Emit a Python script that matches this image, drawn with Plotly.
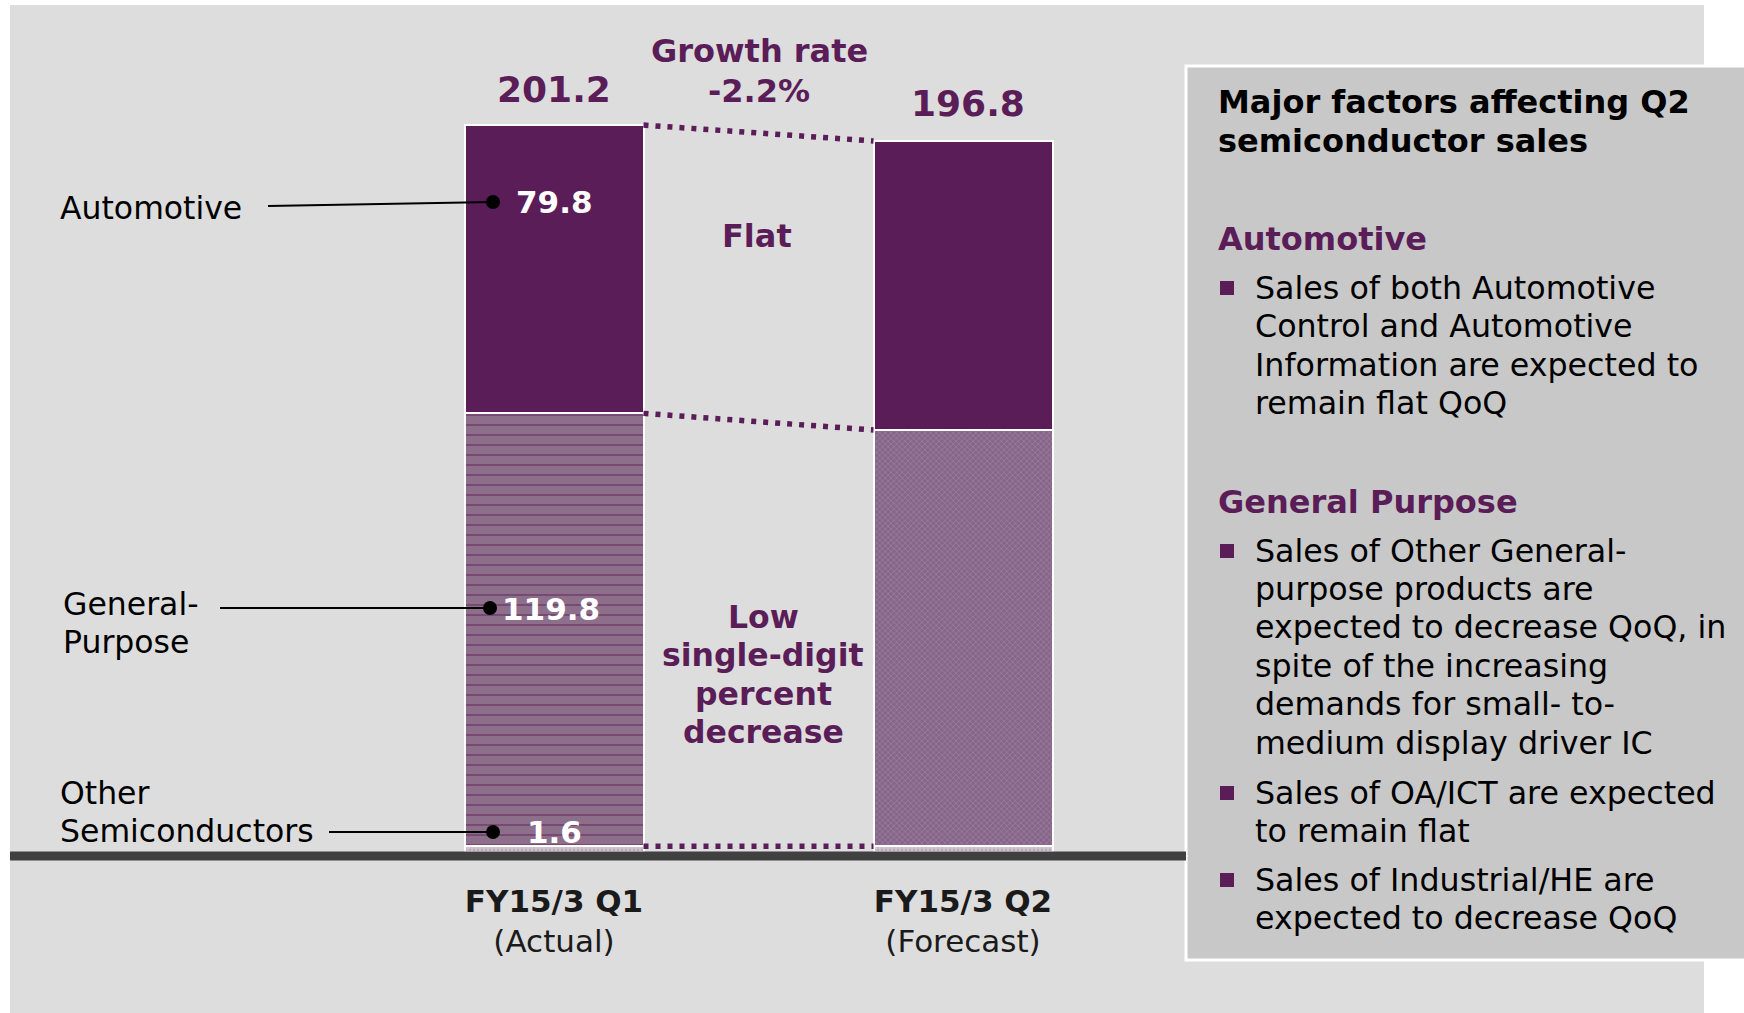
import plotly.graph_objects as go

# dados (bilhões de ienes)
periodos = ["FY15/3 Q1", "FY15/3 Q2"]
subtitulos = ["(Actual)", "(Forecast)"]
outros = [1.6, 1.6]
uso_geral = [119.8, 115.2]
automotivo = [79.8, 80.0]
totais = [201.2, 196.8]
taxa_crescimento = "-2.2%"

W, H = 1744, 1013
ROXO = "#5a1d57"
FONTE = "DejaVu Sans"


def px(x):
    return x / W


def py(y):
    return 1 - y / H


# escala vertical: y=0 no pixel 852, 3.613 px por unidade
y0_px = 852
escala = 3.613
largura = 179 / 409

x_pos = [0, 1]

fig = go.Figure()

fig.add_trace(go.Bar(
    x=x_pos, y=outros, width=largura, name="Other",
    marker=dict(color="#c2b0c0", line=dict(color="white", width=2),
                pattern=dict(shape=".", fgcolor="#a58ca3", bgcolor="#d2c6d1", size=4, solidity=0.4)),
))
fig.add_trace(go.Bar(
    x=x_pos, y=uso_geral, width=largura, name="General-Purpose",
    marker=dict(color="#8f708d", line=dict(color="white", width=2),
                pattern=dict(shape=["-", "x"], fgcolor=["#5a1d57", "#a890a6"],
                             bgcolor=["#8d6f8b", "#86658a"], size=[10, 4], solidity=[0.18, 0.4])),
))
fig.add_trace(go.Bar(
    x=x_pos, y=automotivo, width=largura, name="Automotive",
    marker=dict(color=ROXO, line=dict(color="white", width=2)),
))

# linhas pontilhadas ligando os topos acumulados
acum_q1 = [outros[0], outros[0] + uso_geral[0], totais[0]]
acum_q2 = [outros[1], outros[1] + uso_geral[1], totais[1]]
for a, b in zip(acum_q1, acum_q2):
    fig.add_trace(go.Scatter(
        x=[x_pos[0] + largura / 2, x_pos[1] - largura / 2], y=[a, b],
        mode="lines", line=dict(color=ROXO, width=5.5, dash="5px,7px"),
        hoverinfo="skip", showlegend=False,
    ))

shapes = [
    dict(type="rect", xref="paper", yref="paper", x0=px(10), x1=px(1704), y0=py(1013), y1=py(5),
         fillcolor="#dddddd", line=dict(width=0), layer="below"),
    dict(type="rect", xref="paper", yref="paper", x0=px(1186), x1=px(1750), y0=py(960), y1=py(66),
         fillcolor="#c8c8c8", line=dict(color="white", width=3), layer="below"),
    dict(type="line", xref="paper", yref="paper", x0=px(10), x1=px(1186), y0=py(856), y1=py(856),
         line=dict(color="#404040", width=9), layer="above"),
]

# linhas de chamada e pontos pretos
chamadas = [(268, 206, 493, 202), (220, 608, 490, 608), (329, 832, 493, 832)]
for xa, ya, xb, yb in chamadas:
    shapes.append(dict(type="line", xref="paper", yref="paper", x0=px(xa), y0=py(ya), x1=px(xb), y1=py(yb),
                       line=dict(color="black", width=2)))
    shapes.append(dict(type="circle", xref="paper", yref="paper", x0=px(xb - 7), x1=px(xb + 7),
                       y0=py(yb + 7), y1=py(yb - 7), fillcolor="black", line=dict(width=0)))

anns = []


def texto(t, x, y, size=31, color="black", xanchor="center", bold=False):
    if bold:
        t = "<b>" + t + "</b>"
    anns.append(dict(text=t, x=px(x), y=py(y), xref="paper", yref="paper", xanchor=xanchor,
                     yanchor="middle", showarrow=False, font=dict(family=FONTE, size=size, color=color)))


def linhas(lista, x, y, passo, **kw):
    for i, t in enumerate(lista):
        texto(t, x, y + i * passo, **kw)


# rótulos à esquerda
texto("Automotive", 58, 208, size=31.5, xanchor="left")
linhas(["General-", "Purpose"], 61, 604, 38, size=31.5, xanchor="left")
linhas(["Other", "Semiconductors"], 58, 793, 38, size=31.5, xanchor="left")

# valores dentro da barra Q1
texto(f"{automotivo[0]}", 554, 202, color="white", bold=True)
texto(f"{uso_geral[0]}", 551, 609, color="white", bold=True)
texto(f"{outros[0]}", 554, 832, color="white", bold=True)

# totais
texto(f"{totais[0]}", 554, 89, size=36, color=ROXO, bold=True)
texto(f"{totais[1]}", 968, 103, size=36, color=ROXO, bold=True)
texto("Growth rate", 759, 51, size=32, color=ROXO, bold=True)
texto(taxa_crescimento, 759, 91, size=32, color=ROXO, bold=True)
texto("Flat", 757, 236, size=32, color=ROXO, bold=True)
linhas(["Low", "single-digit", "percent", "decrease"], 763, 617, 38.4, size=31.5, color=ROXO, bold=True)

# caixa de fatores
texto("Major factors affecting Q2", 1216, 102, size=32, bold=True, xanchor="left")
texto("semiconductor sales", 1216, 141, size=32, bold=True, xanchor="left")
texto("Automotive", 1216, 239, size=32, color=ROXO, bold=True, xanchor="left")
texto("General Purpose", 1216, 502, size=32, color=ROXO, bold=True, xanchor="left")

linhas_caixa = [
    (288, "Sales of both Automotive", True),
    (326, "Control and Automotive", False),
    (365, "Information are expected to", False),
    (403, "remain flat QoQ", False),
    (551, "Sales of Other General-", True),
    (589, "purpose products are", False),
    (627, "expected to decrease QoQ, in", False),
    (666, "spite of the increasing", False),
    (704, "demands for small- to-", False),
    (743, "medium display driver IC", False),
    (793, "Sales of OA/ICT are expected", True),
    (831, "to remain flat", False),
    (880, "Sales of Industrial/HE are", True),
    (918, "expected to decrease QoQ", False),
]
for y, t, marcador in linhas_caixa:
    texto(t, 1253, y, size=31.7, xanchor="left")
    if marcador:
        shapes.append(dict(type="rect", xref="paper", yref="paper", x0=px(1220), x1=px(1234),
                           y0=py(y + 7), y1=py(y - 7), fillcolor=ROXO, line=dict(width=0)))

fig.update_layout(
    width=W, height=H,
    margin=dict(l=0, r=0, t=0, b=0),
    paper_bgcolor="white", plot_bgcolor="rgba(0,0,0,0)",
    barmode="stack", showlegend=False,
    shapes=shapes, annotations=anns,
    xaxis=dict(range=[-554 / 409, (W - 554) / 409], domain=[0, 1],
               tickvals=x_pos,
               ticktext=[f"<b>{p}</b><br>{s}" for p, s in zip(periodos, subtitulos)],
               showgrid=False, zeroline=False, showline=False, ticks="",
               ticklabelstandoff=28,
               tickfont=dict(family=FONTE, size=31, color="#1a1a1a")),
    yaxis=dict(range=[0, y0_px / escala], domain=[(H - y0_px) / H, 1],
               showgrid=False, zeroline=False, showticklabels=False, showline=False),
)

# tira a margem padrão do body para a figura ocupar a janela inteira
fig.write_html("out.html", config={"displayModeBar": False},
               post_script="document.body.style.margin='0px';")
